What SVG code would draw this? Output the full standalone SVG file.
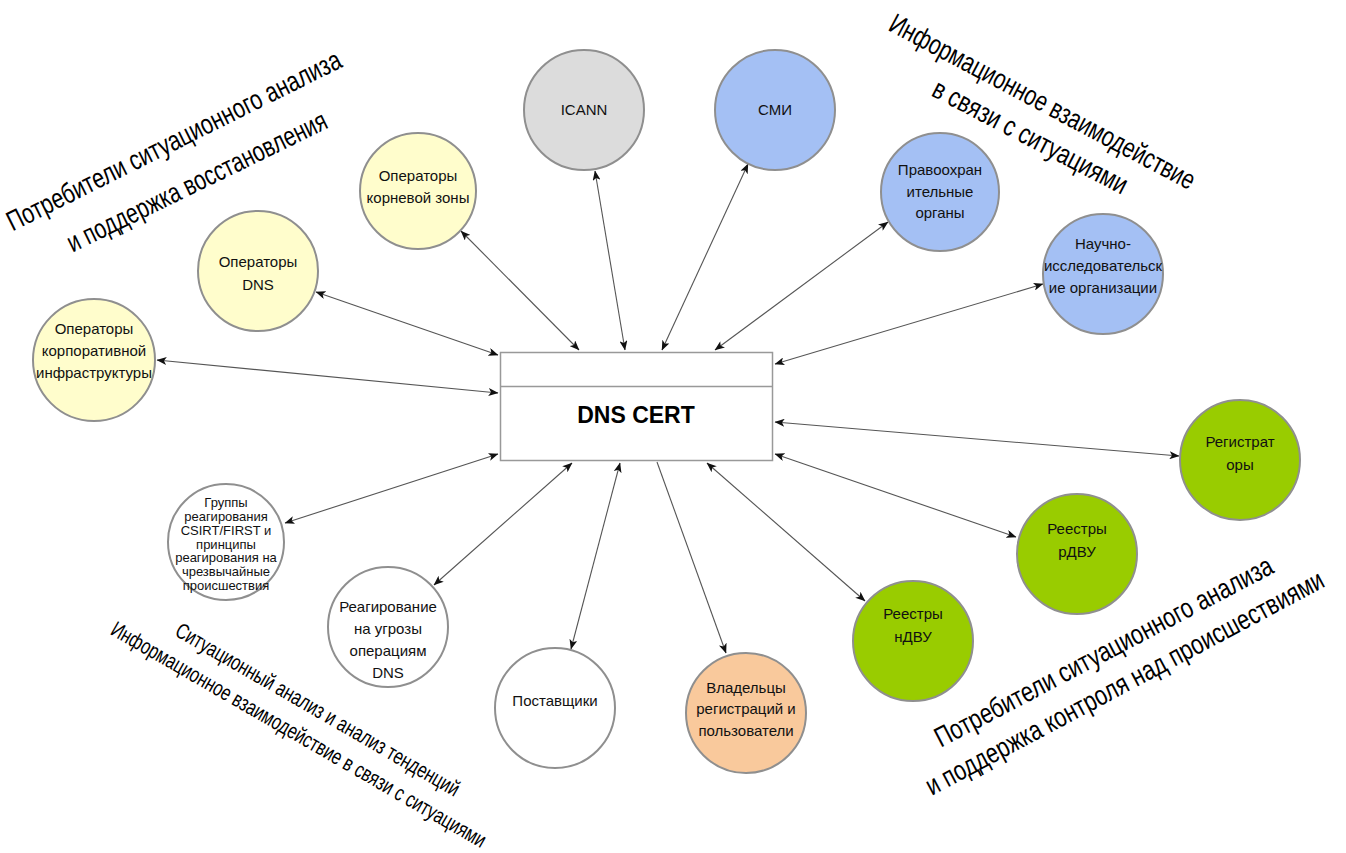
<svg xmlns="http://www.w3.org/2000/svg" width="1346" height="853" viewBox="0 0 1346 853">
<style>
.n{stroke:#8f8f8f;stroke-width:2}
.y{fill:#FFFDCC}.g{fill:#DCDCDC}.b{fill:#A4C0F4}.gr{fill:#99CC00}.o{fill:#F9C99C}.w{fill:#FFFFFF}
.t{font-family:"Liberation Sans",Arial,sans-serif;font-size:15px;fill:#111;text-anchor:middle}
.ts{font-family:"Liberation Sans",Arial,sans-serif;font-size:13px;fill:#111;text-anchor:middle}
.big{font-family:"Liberation Sans",Arial,sans-serif;font-size:28px;fill:#000;text-anchor:middle}
.mid{font-family:"Liberation Sans",Arial,sans-serif;font-size:22px;fill:#000;text-anchor:middle}
.c line{stroke:#555;stroke-width:1.1;fill:none}
</style>
<defs>
<marker id="a" viewBox="0 0 10 8" refX="9.5" refY="4" markerWidth="10" markerHeight="8" markerUnits="userSpaceOnUse" orient="auto-start-reverse">
<path d="M0,0 L10,4 L0,8 L2.5,4 z" fill="#111"/>
</marker>
</defs>
<rect width="1346" height="853" fill="#fff"/>

<g id="labels">
<text class="big" transform="translate(178,149) rotate(-26.5)" textLength="370" lengthAdjust="spacingAndGlyphs">Потребители ситуационного анализа</text>
<text class="big" transform="translate(201,190) rotate(-26)" textLength="286" lengthAdjust="spacingAndGlyphs">и поддержка восстановления</text>
<text class="big" transform="translate(1038,110) rotate(28)" textLength="342" lengthAdjust="spacingAndGlyphs">Информационное взаимодействие</text>
<text class="big" transform="translate(1026,145) rotate(27.5)" textLength="216" lengthAdjust="spacingAndGlyphs">в связи с ситуациями</text>
<text class="mid" transform="translate(314,716) rotate(30)" textLength="324" lengthAdjust="spacingAndGlyphs">Ситуационный анализ и анализ тенденций</text>
<text class="mid" transform="translate(295,741) rotate(30)" textLength="429" lengthAdjust="spacingAndGlyphs">Информационное взаимодействие в связи с ситуациями</text>
<text class="big" transform="translate(1108,660) rotate(-27.7)" textLength="378" lengthAdjust="spacingAndGlyphs">Потребители ситуационного анализа</text>
<text class="big" transform="translate(1129,691) rotate(-28)" textLength="447" lengthAdjust="spacingAndGlyphs">и поддержка контроля над происшествиями</text>
</g>

<g id="connectors" class="c">
<line x1="157" y1="360" x2="498" y2="393" marker-start="url(#a)" marker-end="url(#a)"/>
<line x1="316" y1="292" x2="498" y2="355" marker-start="url(#a)" marker-end="url(#a)"/>
<line x1="461" y1="231" x2="579" y2="350" marker-start="url(#a)" marker-end="url(#a)"/>
<line x1="595" y1="171" x2="625" y2="350" marker-start="url(#a)" marker-end="url(#a)"/>
<line x1="748" y1="164" x2="662" y2="350" marker-start="url(#a)" marker-end="url(#a)"/>
<line x1="888" y1="222" x2="715" y2="350" marker-start="url(#a)" marker-end="url(#a)"/>
<line x1="1043" y1="284" x2="775" y2="364" marker-start="url(#a)" marker-end="url(#a)"/>
<line x1="775" y1="422" x2="1179" y2="456" marker-start="url(#a)" marker-end="url(#a)"/>
<line x1="775" y1="454" x2="1016" y2="537" marker-start="url(#a)" marker-end="url(#a)"/>
<line x1="707" y1="463" x2="865" y2="601" marker-start="url(#a)" marker-end="url(#a)"/>
<line x1="657" y1="462" x2="726" y2="653" marker-end="url(#a)"/>
<line x1="620" y1="463" x2="571" y2="649" marker-start="url(#a)" marker-end="url(#a)"/>
<line x1="572" y1="463" x2="434" y2="585" marker-start="url(#a)" marker-end="url(#a)"/>
<line x1="498" y1="454" x2="285" y2="523" marker-start="url(#a)" marker-end="url(#a)"/>
</g>

<g id="dnscert">
<rect x="500.5" y="352.5" width="272" height="108" fill="#fff" stroke="#999" stroke-width="1.5"/>
<line x1="500.5" y1="386.5" x2="772.5" y2="386.5" stroke="#999" stroke-width="1.5"/>
<text x="636" y="423" font-family="Liberation Sans,Arial,sans-serif" font-size="23" font-weight="bold" text-anchor="middle" fill="#000">DNS CERT</text>
</g>

<g id="icann"><circle class="n g" cx="584" cy="110" r="60"/><text class="t" x="584" y="115">ICANN</text></g>
<g id="smi"><circle class="n b" cx="775" cy="110" r="60"/><text class="t" x="775" y="115">СМИ</text></g>
<g id="root"><circle class="n y" cx="418" cy="191" r="58"/><text class="t" x="418" y="181">Операторы</text><text class="t" x="418" y="203">корневой зоны</text></g>
<g id="dnsops"><circle class="n y" cx="258" cy="271" r="60"/><text class="t" x="258" y="267">Операторы</text><text class="t" x="258" y="290">DNS</text></g>
<g id="corp"><circle class="n y" cx="94" cy="360" r="61"/><text class="t" x="94" y="334">Операторы</text><text class="t" x="94" y="356">корпоративной</text><text class="t" x="94" y="378">инфраструктуры</text></g>
<g id="law"><circle class="n b" cx="940" cy="192" r="59"/><text class="t" x="940" y="175">Правоохран</text><text class="t" x="940" y="197">ительные</text><text class="t" x="940" y="218">органы</text></g>
<g id="research"><circle class="n b" cx="1103" cy="274" r="60"/><text class="t" x="1103" y="249">Научно-</text><text class="t" x="1103" y="271">исследовательск</text><text class="t" x="1103" y="293">ие организации</text></g>
<g id="registrars"><circle class="n gr" cx="1240" cy="460" r="60"/><text class="t" x="1240" y="447">Регистрат</text><text class="t" x="1240" y="470">оры</text></g>
<g id="rdvu"><circle class="n gr" cx="1077" cy="554" r="60"/><text class="t" x="1077" y="534">Реестры</text><text class="t" x="1077" y="557">рДВУ</text></g>
<g id="ndvu"><circle class="n gr" cx="913" cy="641" r="60"/><text class="t" x="913" y="619">Реестры</text><text class="t" x="913" y="642">нДВУ</text></g>
<g id="owners"><circle class="n o" cx="746" cy="713" r="60"/><text class="t" x="746" y="693">Владельцы</text><text class="t" x="746" y="714">регистраций и</text><text class="t" x="746" y="736">пользователи</text></g>
<g id="vendors"><circle class="n w" cx="555" cy="708" r="60"/><text class="t" x="555" y="706">Поставщики</text></g>
<g id="threat"><circle class="n w" cx="388" cy="627" r="60"/><text class="t" x="388" y="612">Реагирование</text><text class="t" x="388" y="634">на угрозы</text><text class="t" x="388" y="656">операциям</text><text class="t" x="388" y="678">DNS</text></g>
<g id="csirt"><circle class="n w" cx="226" cy="542" r="58"/>
<text class="ts" x="226" y="507">Группы</text><text class="ts" x="226" y="521">реагирования</text><text class="ts" x="226" y="535">CSIRT/FIRST и</text><text class="ts" x="226" y="549">принципы</text><text class="ts" x="226" y="562">реагирования на</text><text class="ts" x="226" y="576">чрезвычайные</text><text class="ts" x="226" y="590">происшествия</text></g>
</svg>
